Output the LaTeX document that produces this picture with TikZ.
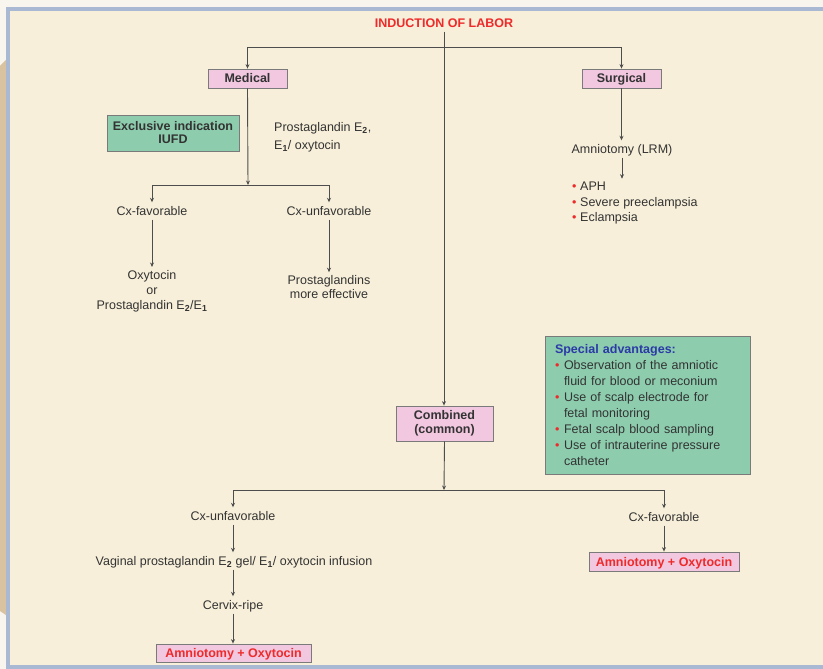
\documentclass[tikz,border=0pt]{standalone}
\usepackage{fontspec}
\setmainfont{Liberation Sans}
\usetikzlibrary{arrows.meta}
\definecolor{pagebg}{HTML}{F8F4EE}
\definecolor{panel}{HTML}{F7EFD9}
\definecolor{frameblue}{HTML}{A9B9D3}
\definecolor{tanstripe}{HTML}{D9C2A0}
\definecolor{boxpink}{HTML}{F2C7E0}
\definecolor{boxgreen}{HTML}{8DCDAE}
\definecolor{titlered}{HTML}{EE2A2A}
\definecolor{advblue}{HTML}{2B3AA6}
\definecolor{linegray}{HTML}{4D4D4D}
\definecolor{edgegray}{HTML}{7A7A7A}
\definecolor{textgray}{HTML}{333333}
\newcommand{\rbul}[1]{\makebox[#1][l]{\textcolor{titlered}{\textbullet}}}
\newcommand{\lsub}[1]{\textsubscript{\textbf{#1}}}
\begin{document}
\begin{tikzpicture}[x=1pt,y=-1pt,
  every node/.style={font=\fontsize{12.5}{14}\selectfont, text=textgray, inner sep=3pt},
  pinkbox/.style={draw=edgegray, fill=boxpink, line width=0.8pt, inner sep=0pt,
    font=\fontsize{12.5}{14}\selectfont\bfseries, align=center},
  greenbox/.style={draw=edgegray, fill=boxgreen, line width=0.8pt},
  lbl/.style={text height=10pt, text depth=1pt},
  link/.style={draw=linegray, line width=0.9pt, -{Stealth[length=4.5pt,width=4pt]}},
  plain/.style={draw=linegray, line width=0.9pt}
]
\useasboundingbox (0,0) rectangle (823,669);
% background
\fill[pagebg] (0,0) rectangle (823,669);
\fill[tanstripe] (0,66) -- (6,60) -- (6,615) -- (0,611) -- cycle;
\fill[frameblue] (6,7) rectangle (823,669);
\fill[panel] (10,11) rectangle (823,665);

% title and top branch
\node[lbl, font=\fontsize{12.5}{14}\selectfont\bfseries, text=titlered] (title) at (444,23) {INDUCTION OF LABOR};
\coordinate (j1) at (444,47);
\node[pinkbox, lbl, minimum width=79pt, minimum height=19pt] (med) at (247.5,78.5) {Medical};
\node[pinkbox, lbl, minimum width=79pt, minimum height=19pt] (surg) at (621.5,78.5) {Surgical};
\draw[link] (j1) -| (med.north);
\draw[link] (j1) -| (surg.north);

% medical
\node[greenbox, minimum width=132pt, minimum height=36pt, inner sep=0pt, align=center,
  font=\fontsize{12.5}{13}\selectfont\bfseries] (excl) at (173,133) {Exclusive indication\\IUFD};
\node[anchor=west, align=left, font=\fontsize{12.5}{18}\selectfont] (prost) at (271,137)
  {Prostaglandin E\lsub{2},\\E\lsub{1}/ oxytocin};
\coordinate (j2) at (248,185);
\draw[link] (med.south) -- (j2);
\node[lbl] (cxf) at (152,211) {Cx-favorable};
\node[lbl] (cxu) at (329,211) {Cx-unfavorable};
\draw[link] (j2) -| (cxf.north);
\draw[link] (j2) -| (cxu.north);
\node[align=center, font=\fontsize{12.5}{15}\selectfont] (oxy) at (152,291)
  {Oxytocin\\or\\Prostaglandin E\lsub{2}/E\lsub{1}};
\node[align=center, font=\fontsize{12.5}{14}\selectfont] (pgl) at (329,287)
  {Prostaglandins\\more effective};
\draw[link] (cxf.south) -- (oxy.north);
\draw[link] (cxu.south) -- (pgl.north);

% surgical
\node[lbl] (amn) at (622,149) {Amniotomy (LRM)};
\draw[link] (surg.south) -- (surg.south |- amn.north);
\node[anchor=west, align=left, font=\fontsize{12.5}{15.5}\selectfont] (slist) at (569,203)
  {\rbul{8pt}APH\\\rbul{8pt}Severe preeclampsia\\\rbul{8pt}Eclampsia};
\draw[link] (amn.south) -- (amn.south |- slist.north);

% special advantages
\node[greenbox, minimum height=138pt, text width=185pt, inner xsep=10pt, inner ysep=0pt,
  align=left, font=\fontsize{12.5}{15.9}\selectfont] (spec) at (647.5,405)
  {\textcolor{advblue}{\bfseries Special advantages:}\\
   \rbul{9pt}Observation of the amniotic\\
   \hspace*{9pt}fluid for blood or meconium\\
   \rbul{9pt}Use of scalp electrode for\\
   \hspace*{9pt}fetal monitoring\\
   \rbul{9pt}Fetal scalp blood sampling\\
   \rbul{9pt}Use of intrauterine pressure\\
   \hspace*{9pt}catheter};

% combined
\node[pinkbox, minimum width=97pt, minimum height=35pt] (comb) at (444.5,423.5) {Combined\\(common)};
\draw[link] (title.south) -- (title.south |- comb.north);
\coordinate (j3) at (444,490);
\draw[link] (comb.south) -- (j3);
\node[lbl] (cxu2) at (233,516) {Cx-unfavorable};
\node[lbl] (cxf2) at (664,517) {Cx-favorable};
\draw[link] (j3) -| (cxu2.north);
\draw[link] (j3) -| (cxf2.north);
\node[lbl] (vag) at (234,561) {Vaginal prostaglandin E\lsub{2} gel/ E\lsub{1}/ oxytocin infusion};
\node[lbl] (ripe) at (233,605) {Cervix-ripe};
\node[pinkbox, lbl, minimum width=155pt, minimum height=18pt, text=titlered] (amox1) at (233.5,653) {Amniotomy + Oxytocin};
\node[pinkbox, lbl, minimum width=150pt, minimum height=19pt, text=titlered] (amox2) at (664,561.5) {Amniotomy + Oxytocin};
\draw[link] (cxu2.south) -- (cxu2.south |- vag.north);
\draw[link] (cxu2.south |- vag.south) -- (cxu2.south |- ripe.north);
\draw[link] (ripe.south) -- (ripe.south |- amox1.north);
\draw[link] (cxf2.south) -- (cxf2.south |- amox2.north);
\end{tikzpicture}
\end{document}
